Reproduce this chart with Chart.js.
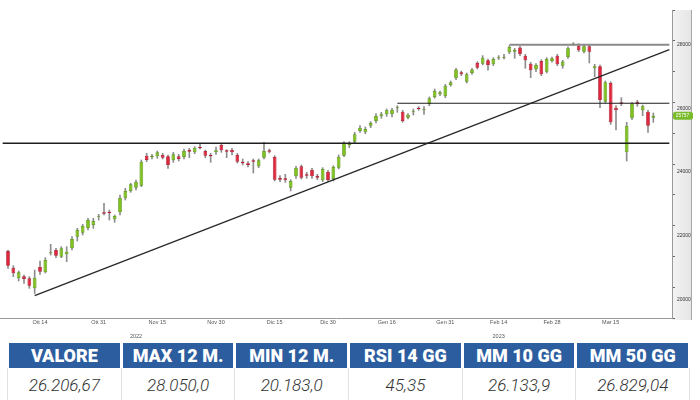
<!DOCTYPE html>
<html>
<head>
<meta charset="utf-8">
<script src="https://cdn.jsdelivr.net/npm/chart.js@4.4.0/dist/chart.umd.min.js"></script>
<style>
  body { margin: 0; background: #fff; width: 700px; height: 400px; overflow: hidden; font-family: Roboto, sans-serif; }
  #wrap { width: 700px; height: 340px; }
  .tbl { display: grid; grid-template-columns: repeat(6, 110.7px); column-gap: 3px; padding-left: 9px; margin-top: 3px; }
  .hd { height: 25px; background: #2b5d9f; color: #fff; font-weight: 900; font-size: 18px; line-height: 26px; text-align: center; }
  .val { height: 32px; line-height: 34px; text-align: center; font-style: italic; font-weight: 300; font-size: 17px; color: #333;
         border-left: 1px solid #e2e2e2; border-right: 1px solid #e2e2e2; margin: 0 -2px; }
</style>
</head>
<body>
<div id="wrap"><canvas id="chart" width="700" height="340"></canvas></div>
<div class="tbl" id="tbl"></div>
<script>
// trading days shown on the chart
const dates = [
  '2022-10-06','2022-10-07','2022-10-10','2022-10-11','2022-10-12','2022-10-13','2022-10-14','2022-10-17','2022-10-18','2022-10-19',
  '2022-10-20','2022-10-21','2022-10-24','2022-10-25','2022-10-26','2022-10-27','2022-10-28','2022-10-31',
  '2022-11-01','2022-11-02','2022-11-03','2022-11-04','2022-11-07','2022-11-08','2022-11-09','2022-11-10','2022-11-11','2022-11-14',
  '2022-11-15','2022-11-16','2022-11-17','2022-11-18','2022-11-21','2022-11-22','2022-11-23','2022-11-24','2022-11-25','2022-11-28',
  '2022-11-29','2022-11-30',
  '2022-12-01','2022-12-02','2022-12-05','2022-12-06','2022-12-07','2022-12-08','2022-12-09','2022-12-12','2022-12-13','2022-12-14',
  '2022-12-15','2022-12-16','2022-12-19','2022-12-20','2022-12-21','2022-12-22','2022-12-23','2022-12-27','2022-12-28','2022-12-29',
  '2022-12-30',
  '2023-01-02','2023-01-03','2023-01-04','2023-01-05','2023-01-06','2023-01-09','2023-01-10','2023-01-11','2023-01-12','2023-01-13',
  '2023-01-16','2023-01-17','2023-01-18','2023-01-19','2023-01-20','2023-01-23','2023-01-24','2023-01-25','2023-01-26','2023-01-27',
  '2023-01-30','2023-01-31',
  '2023-02-01','2023-02-02','2023-02-03','2023-02-06','2023-02-07','2023-02-08','2023-02-09','2023-02-10','2023-02-13','2023-02-14',
  '2023-02-15','2023-02-16','2023-02-17','2023-02-20','2023-02-21','2023-02-22','2023-02-23','2023-02-24','2023-02-27','2023-02-28',
  '2023-03-01','2023-03-02','2023-03-03','2023-03-06','2023-03-07','2023-03-08','2023-03-09','2023-03-10','2023-03-13','2023-03-14',
  '2023-03-15','2023-03-16','2023-03-17','2023-03-20','2023-03-21','2023-03-22','2023-03-23','2023-03-24','2023-03-27'
];

const open = [
  21516,20993,20659,20721,20659,20345,21014,20847,21442,21547,
  21338,21411,21600,21965,22091,22227,22332,22593,22729,22750,
  22509,22729,23168,23398,23503,23566,24507,24465,24486,24527,
  24486,24360,24486,24465,24695,24611,24779,24653,24527,24611,
  24841,24674,24684,24527,24318,24266,24360,24172,24444,24674,
  24465,23817,23796,23503,23858,24172,23921,24067,23879,23733,
  24005,23775,
  24130,24507,24841,24946,25280,25239,25448,25594,25740,25803,
  25803,25990,25887,25698,25866,26012,25929,26117,26347,26431,
  26368,26724,26933,27121,26828,27100,27414,27393,27497,27372,
  27560,27581,27748,27769,27895,27644,27393,27205,27476,27142,
  27476,27644,27330,27602,27995,27958,27769,27937,27247,27309,
  26201,26786,26012,26180,24611,25678,26201,25929,25887,25699
];
const high = [
  21547,21056,20889,20763,20711,20920,21202,21307,21725,21600,
  21652,21652,21965,22227,22352,22541,22541,22666,23011,22802,
  22645,23273,23482,23639,23743,24371,24580,24548,24653,24580,
  24527,24611,24548,24716,24737,24789,24862,24684,24580,24779,
  24894,24695,24737,24580,24402,24318,24402,24402,24925,24716,
  24507,23880,23921,23754,24172,24214,23984,24109,23921,24130,
  24047,24193,
  24530,24946,24946,25238,25447,25406,25573,25824,25866,25970,
  25991,26075,25929,25824,25970,26044,26044,26347,26598,26535,
  26744,26849,27247,27163,27100,27247,27456,27644,27539,27581,
  27644,27686,27958,27874,27937,27686,27435,27393,27518,27581,
  27602,27686,27497,27916,28050,28020,27979,27979,27372,27351,
  26849,26828,26075,26326,25552,26180,26242,26096,25929,25845
];
const low = [
  20972,20711,20575,20502,20345,20183,20784,20826,21390,21307,
  21307,21181,21547,21830,22018,22175,22227,22488,22645,22488,
  22415,22645,23116,23357,23430,23534,24318,24402,24423,24402,
  24109,24297,24339,24402,24444,24569,24716,24444,24297,24548,
  24611,24444,24528,24276,24214,24151,23963,24130,24402,24590,
  23712,23691,23670,23398,23796,23775,23796,23796,23754,23691,
  23691,23712,
  24090,24475,24758,24894,25239,25197,25385,25531,25678,25740,
  25720,25866,25552,25657,25782,25929,25803,26075,26305,26389,
  26326,26682,26891,27016,26786,27058,27225,27351,27184,27330,
  27518,27539,27706,27560,27644,27247,26953,27142,27016,27100,
  27435,27330,27247,27560,27960,27769,27727,27414,26985,26012,
  26159,25490,25312,26075,24339,25636,26054,25761,25239,25552
];
const close = [
  21056,20815,20847,20637,20428,20679,20868,21233,21463,21369,
  21600,21495,21892,22175,22300,22488,22457,22614,22687,22708,
  22614,23189,23398,23607,23691,24318,24371,24486,24611,24444,
  24214,24548,24402,24653,24632,24758,24737,24507,24486,24674,
  24674,24632,24611,24318,24266,24214,24318,24360,24653,24632,
  23754,23754,23733,23712,24130,23817,23879,23858,23817,24088,
  23743,24151,
  24475,24894,24862,25176,25385,25343,25531,25751,25803,25928,
  25950,26012,25594,25782,25887,25970,25950,26305,26535,26493,
  26703,26807,27205,27058,27058,27205,27267,27581,27351,27539,
  27581,27602,27916,27832,27686,27497,27184,27351,27058,27539,
  27560,27372,27456,27874,28015,27811,27937,27769,27309,26253,
  26807,25552,25929,26138,25448,26138,26117,26054,25448,25757
];

// x tick labels
const tickDates = ['2022-10-14','2022-10-31','2022-11-15','2022-11-30','2022-12-15','2022-12-30',
                   '2023-01-16','2023-01-31','2023-02-14','2023-02-28','2023-03-15'];
const tickText = ['Ott 14','Ott 31','Nov 15','Nov 30','Dic 15','Dic 30','Gen 16','Gen 31','Feb 14','Feb 28','Mar 15'];
const yearDates = ['2022-11-09','2023-02-14'];
const yearText = ['2022','2023'];
// y tick labels
const yTicks = [20000, 22000, 24000, 26000, 28000];

// drawn support / resistance levels
const levelFrom = ['2023-02-16','2023-01-18','p0'];
const levelValue = [27985, 26149, 24896];
const trendDates = ['2022-10-13','p3'];
const trendValues = [20114, 27830];

// table
const statNames = ['VALORE','MAX 12 M.','MIN 12 M.','RSI 14 GG','MM 10 GG','MM 50 GG'];
const statValues = ['26.206,67','28.050,0','20.183,0','45,35','26.133,9','26.829,04'];

const labels = ['p0', ...dates, 'p1', 'p2', 'p3'];
const up = dates.map((d, i) => close[i] >= open[i]);

const GREEN = '#80c21e', GREEN_B = '#5b9812', RED = '#e2253e', RED_B = '#b3182c', WICK = '#8d8d8d';

const stripPlugin = {
  id: 'strip',
  beforeDraw(chart) {
    const { ctx, chartArea } = chart;
    const y = chart.scales.y;
    const g = ctx.createLinearGradient(y.left, 0, y.right, 0);
    g.addColorStop(0, '#f3f3f3');
    g.addColorStop(1, '#e6e6e6');
    ctx.save();
    ctx.fillStyle = g;
    ctx.fillRect(y.left, chartArea.top, y.right - y.left, chartArea.bottom - chartArea.top + 2);
    ctx.strokeStyle = '#a8a8a8';
    ctx.lineWidth = 1;
    ctx.beginPath();
    ctx.moveTo(y.right + 0.5, chartArea.top);
    ctx.lineTo(y.right + 0.5, chartArea.bottom + 2);
    ctx.stroke();
    ctx.restore();
  },
  afterDraw(chart) {
    const { ctx } = chart;
    const xs = chart.scales.x, ys = chart.scales.y;
    ctx.save();
    ctx.fillStyle = '#555';
    ctx.font = '5.5px "Liberation Sans"';
    ctx.textAlign = 'center';
    ctx.textBaseline = 'middle';
    yearDates.forEach((d, k) => {
      ctx.fillText(yearText[k], xs.getPixelForValue(labels.indexOf(d)), xs.top + 18);
    });
    // y tick labels
    ctx.fillStyle = '#333';
    ctx.font = '5px "Liberation Sans"';
    ctx.textAlign = 'left';
    yTicks.forEach(v => {
      ctx.fillText(String(v), ys.left + 5, ys.getPixelForValue(v) + 0.3);
    });
    // last price badge
    const last = close[close.length - 1];
    const py = ys.getPixelForValue(last);
    ctx.fillStyle = '#79bb2a';
    ctx.beginPath();
    ctx.roundRect(ys.left + 1, py - 4, ys.right - ys.left + 1, 8, 2.5);
    ctx.fill();
    ctx.fillStyle = '#fff';
    ctx.font = '4.8px "Liberation Sans"';
    ctx.textAlign = 'center';
    ctx.fillText(String(last), (ys.left + ys.right) / 2 + 1, py + 0.3);
    ctx.restore();
  }
};

const lineDs = (pts, color, width) => ({
  type: 'line', data: pts, borderColor: color, borderWidth: width,
  pointRadius: 0, fill: false, order: 1, clip: false
});

new Chart(document.getElementById('chart'), {
  type: 'bar',
  data: {
    labels,
    datasets: [
      {
        data: dates.map((d, i) => ({ x: d, y: [low[i], high[i]] })),
        backgroundColor: WICK, barThickness: 1, grouped: false, order: 3
      },
      {
        data: dates.map((d, i) => ({ x: d, y: [open[i], close[i]] })),
        backgroundColor: up.map(u => u ? GREEN : RED),
        borderColor: up.map(u => u ? GREEN_B : RED_B),
        borderWidth: 0.8, borderSkipped: false,
        barPercentage: 0.7, categoryPercentage: 1, grouped: false, order: 2, minBarLength: 1
      },
      lineDs([{ x: levelFrom[0], y: levelValue[0] }, { x: 'p3', y: levelValue[0] }], '#8a8a8a', 2.2),
      lineDs([{ x: levelFrom[1], y: levelValue[1] }, { x: 'p3', y: levelValue[1] }], '#1e1e1e', 1.1),
      lineDs([{ x: levelFrom[2], y: levelValue[2] }, { x: 'p3', y: levelValue[2] }], '#1e1e1e', 1.3),
      lineDs(trendDates.map((d, i) => ({ x: d, y: trendValues[i] })), '#2a2a2a', 1.4)
    ]
  },
  options: {
    responsive: false,
    animation: false,
    layout: { padding: { top: 10, right: 9, left: 0, bottom: 0 } },
    plugins: { legend: { display: false }, tooltip: { enabled: false } },
    scales: {
      x: {
        type: 'category', offset: true,
        afterFit: s => { s.height = 22; },
        grid: { drawOnChartArea: false, drawTicks: false },
        border: { display: true, color: '#9a9a9a' },
        ticks: {
          autoSkip: false, maxRotation: 0, minRotation: 0, padding: 1.5,
          color: '#555', font: { size: 5.5, family: 'Liberation Sans' },
          callback(v) {
            const k = tickDates.indexOf(this.getLabelForValue(v));
            return k >= 0 ? tickText[k] : '';
          }
        }
      },
      y: {
        position: 'right', min: 19415, max: 29075,
        afterFit: s => { s.width = 19; },
        grid: { drawOnChartArea: false, drawTicks: true, tickLength: 3, color: '#666' },
        border: { display: true, color: '#9a9a9a' },
        ticks: { stepSize: 1000, includeBounds: false, display: true, color: 'rgba(0,0,0,0)', font: { size: 4 }, callback: () => '' }
      }
    }
  },
  plugins: [stripPlugin]
});

const tbl = document.getElementById('tbl');
statNames.forEach(n => { const d = document.createElement('div'); d.className = 'hd'; d.textContent = n; tbl.appendChild(d); });
statValues.forEach(v => { const d = document.createElement('div'); d.className = 'val'; d.textContent = v; tbl.appendChild(d); });
</script>
</body>
</html>
